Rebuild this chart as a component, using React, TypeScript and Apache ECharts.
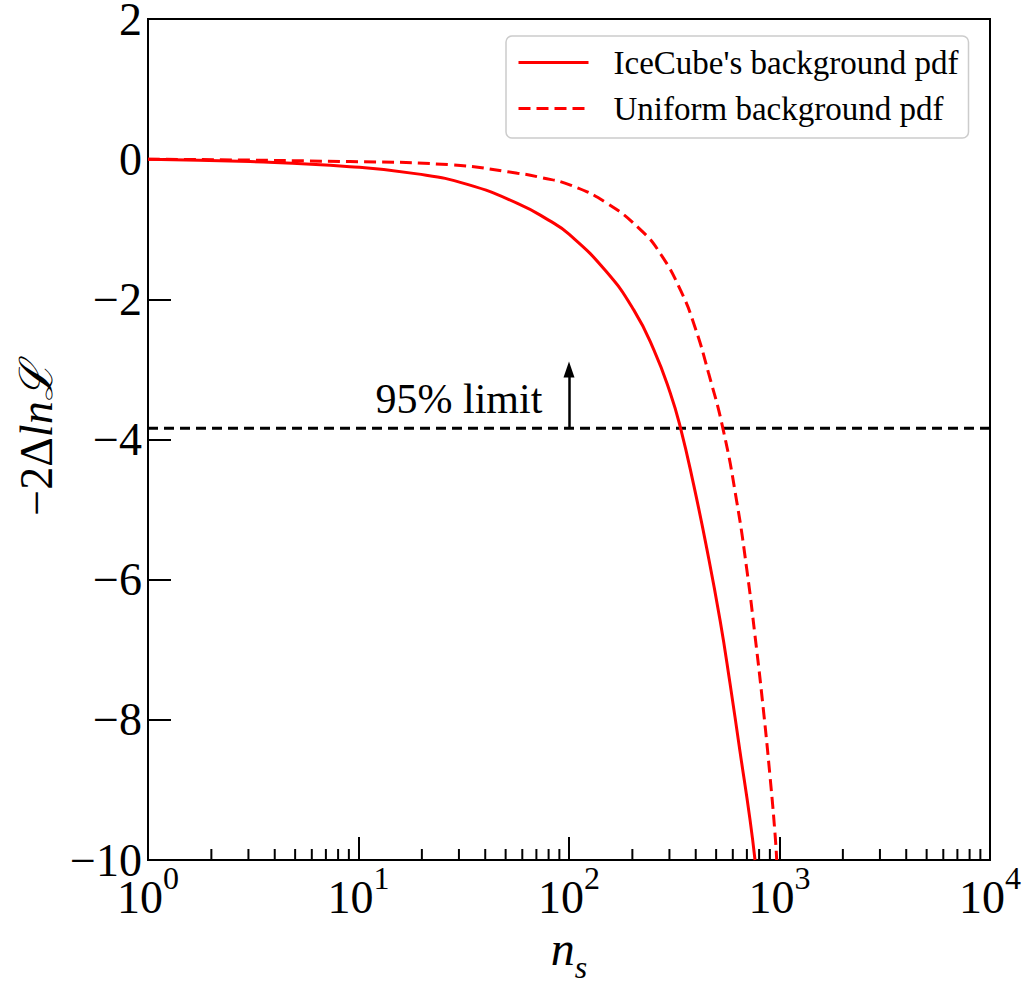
import React, { useEffect, useRef } from "react";
import * as echarts from "echarts";

// Profile likelihood curves, -2ΔlnL versus number of signal events n_s
const iceCubeNs = [1, 3.05, 9.1, 19, 32.9, 56.9, 80, 100, 150, 203, 253, 303, 339, 390, 451, 522, 582, 649, 724, 765];
const iceCubeVals = [0, -0.035, -0.107, -0.21, -0.36, -0.63, -0.87, -1.07, -1.6, -2.15, -2.72, -3.34, -3.84, -4.63, -5.55, -6.58, -7.48, -8.45, -9.42, -10];

const uniformNs = [1, 9.1, 27.3, 56.9, 73, 101.6, 151.7, 219, 272, 340, 395, 460, 542, 626, 699, 765, 838, 901, 952, 970];
const uniformVals = [0, -0.035, -0.08, -0.2, -0.26, -0.37, -0.63, -1.01, -1.35, -1.88, -2.38, -3.05, -3.88, -4.88, -5.85, -6.8, -7.85, -8.8, -9.62, -10];

const limitValue = -3.84;
const limitRange = [1, 10000];
const arrowX = 100;
const arrowTop = -3.0;
const limitText = "95% limit";
const limitTextX = 30;

const yTicks = { min: -10, max: 2, interval: 2 };
const decades = [1, 10, 100, 1000];
const minorMultipliers = [2, 3, 4, 5, 6, 7, 8, 9];

const seriesNames = ["IceCube's background pdf", "Uniform background pdf"];

const FONT = "Liberation Serif, DejaVu Serif, serif";
const RED = "#ff0000";

function zip(xs: number[], ys: number[]) {
  return xs.map((x, i) => [x, ys[i]]);
}

export default function App() {
  const ref = useRef<HTMLDivElement>(null);

  useEffect(() => {
    if (!ref.current) return;
    const chart = echarts.init(ref.current, undefined, { renderer: "svg" });

    const minorTicks: number[][] = [];
    decades.forEach((d) => minorMultipliers.forEach((m) => minorTicks.push([d * m, yTicks.min])));

    const minus = (v: number) => (v < 0 ? "\u2212" + Math.abs(v) : String(v));

    chart.setOption({
      animation: false,
      backgroundColor: "#ffffff",
      textStyle: { fontFamily: FONT },
      grid: {
        left: 148,
        right: 36,
        top: 19,
        bottom: 123,
        containLabel: false,
        outerBoundsMode: "none",
        show: true,
        borderColor: "#000",
        borderWidth: 2,
        backgroundColor: "transparent",
      },
      legend: {
        orient: "vertical",
        left: 506,
        top: 36,
        padding: [10, 10, 13, 11],
        itemGap: 13,
        itemWidth: 70,
        itemHeight: 30,
        backgroundColor: "#ffffff",
        borderColor: "#cccccc",
        borderWidth: 1.5,
        borderRadius: 6,
        data: seriesNames,
        itemStyle: { color: "rgba(0,0,0,0)", borderWidth: 0, opacity: 0 },
        lineStyle: { width: 3 },
        textStyle: {
          fontFamily: FONT,
          fontSize: 33,
          color: "#000",
          padding: [0, 0, 0, 20],
        },
      },
      xAxis: {
        type: "log",
        logBase: 10,
        min: 1,
        max: 10000,
        name: "{n|n}{s|s}",
        nameLocation: "middle",
        nameGap: 62,
        nameTextStyle: {
          rich: {
            n: { fontFamily: FONT, fontSize: 48, fontStyle: "italic", color: "#000", lineHeight: 40, verticalAlign: "top" },
            s: { fontFamily: FONT, fontSize: 32, fontStyle: "italic", color: "#000", lineHeight: 58, verticalAlign: "bottom" },
          },
        },
        splitLine: { show: false },
        axisLine: { show: true, onZero: false, lineStyle: { color: "#000", width: 2 } },
        axisTick: { show: true, inside: true, length: 23, lineStyle: { color: "#000", width: 2 } },
        minorTick: { show: false },
        axisLabel: {
          margin: 2,
          formatter: (v: number) => `{b|10}{e|${Math.round(Math.log10(v))}}`,
          rich: {
            b: { fontFamily: FONT, fontSize: 46, color: "#000", lineHeight: 58, verticalAlign: "bottom" },
            e: { fontFamily: FONT, fontSize: 32, color: "#000", lineHeight: 58, verticalAlign: "top" },
          },
        },
      },
      yAxis: {
        type: "value",
        min: yTicks.min,
        max: yTicks.max,
        interval: yTicks.interval,
        name: "{u|\u22122\u0394}{i|ln\u2112}",
        nameLocation: "middle",
        nameGap: 88,
        nameRotate: 90,
        nameTextStyle: {
          rich: {
            u: { fontFamily: FONT, fontSize: 46, color: "#000" },
            i: { fontFamily: FONT, fontSize: 46, fontStyle: "italic", color: "#000" },
          },
        },
        splitLine: { show: false },
        axisLine: { show: true, onZero: false, lineStyle: { color: "#000", width: 2 } },
        axisTick: { show: true, inside: true, length: 23, lineStyle: { color: "#000", width: 2 } },
        axisLabel: {
          margin: 6,
          fontFamily: FONT,
          fontSize: 46,
          color: "#000",
          formatter: minus,
        },
      },
      series: [
        {
          name: seriesNames[0],
          type: "line",
          data: zip(iceCubeNs, iceCubeVals),
          smooth: 0.5,
          symbol: "none",
          lineStyle: { color: RED, width: 3, type: "solid" },
          itemStyle: { color: RED },
          z: 3,
        },
        {
          name: seriesNames[1],
          type: "line",
          data: zip(uniformNs, uniformVals),
          smooth: 0.5,
          symbol: "none",
          lineStyle: { color: RED, width: 3, type: [12, 6] },
          itemStyle: { color: RED },
          z: 3,
        },
        {
          name: "limit",
          type: "line",
          data: limitRange.map((x) => [x, limitValue]),
          symbol: "none",
          lineStyle: { color: "#000", width: 3, type: [10, 6] },
          z: 2,
          markLine: {
            silent: true,
            symbol: ["none", "triangle"],
            symbolSize: [11, 16],
            label: { show: false },
            lineStyle: { color: "#000", width: 2.5, type: "solid" },
            data: [[{ coord: [arrowX, limitValue] }, { coord: [arrowX, arrowTop] }]],
          },
        },
        {
          name: "minorTicks",
          type: "custom",
          data: minorTicks,
          silent: true,
          renderItem: (params: any, api: any) => {
            const p = api.coord([api.value(0), api.value(1)]);
            return {
              type: "line",
              shape: { x1: p[0], y1: p[1], x2: p[0], y2: p[1] - 11 },
              style: { stroke: "#000", lineWidth: 2 },
            };
          },
          z: 5,
        },
      ],
    });

    // Annotation text sits just above the limit line, anchored in data coordinates
    const anchor = chart.convertToPixel({ gridIndex: 0 }, [limitTextX, limitValue]) as number[];
    chart.setOption({
      graphic: [
        {
          type: "text",
          x: anchor[0],
          y: anchor[1] - 8,
          style: {
            text: limitText,
            fontFamily: FONT,
            fontSize: 42,
            fill: "#000",
            align: "center",
            verticalAlign: "bottom",
          },
          z: 10,
        },
      ],
    });

    return () => chart.dispose();
  }, []);

  return (
    <div
      ref={ref}
      style={{ position: "absolute", left: 0, top: 0, width: 1026, height: 983 }}
    />
  );
}
